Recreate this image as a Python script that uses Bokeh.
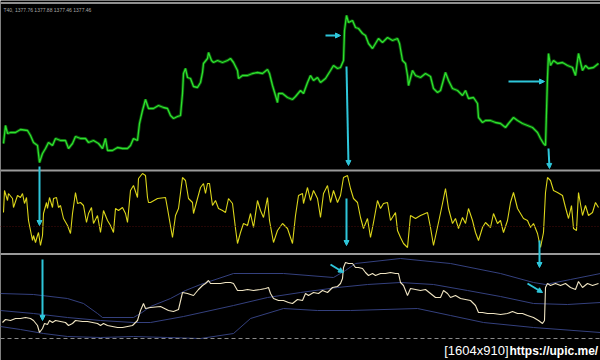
from bokeh.plotting import figure
from bokeh.models import Range1d, Span, Arrow, NormalHead, Label
from bokeh.embed import file_html
from bokeh.resources import INLINE

# ---------------- data (bar index / pane-level values) -------------
# top pane: price line
price_x = [3,5,7,10,15,20,27,30,33,37,
           39,42,45,48,52,55,60,65,68,72,
           75,80,85,88,93,98,102,105,107,112,
           117,122,127,130,133,137,139,142,145,148,
           153,158,163,167,170,173,177,180,182,183,
           185,187,190,193,197,200,202,203,207,208,
           211,213,217,222,227,230,233,237,238,242,
           247,252,257,262,267,269,272,275,277,278,
           282,287,292,295,300,303,307,310,313,317,
           320,325,330,333,337,340,343,344,346,348,
           352,355,358,362,365,368,372,375,378,382,
           387,392,397,399,402,405,407,408,412,415,
           420,425,430,433,437,440,445,448,452,457,
           462,465,468,473,477,478,482,485,490,495,
           500,505,508,513,517,522,527,532,537,540,
           543,545,547,548,550,553,557,562,567,572,
           575,578,582,585,588,593,598]
price_v = [27,45,37,38,38,41,40,35,28,25,
           8,17,22,28,25,32,30,30,22,27,
           34,32,32,28,30,27,22,32,20,20,
           23,22,22,25,32,30,47,60,71,62,
           62,65,63,62,55,52,54,55,77,97,
           102,93,92,84,83,88,98,107,112,118,
           110,108,110,108,110,112,108,100,92,95,
           95,97,98,97,101,97,85,75,68,77,
           77,73,71,74,80,77,88,95,90,93,
           88,92,100,105,102,103,110,140,155,148,
           150,143,142,137,135,127,122,127,132,128,
           133,130,132,127,110,107,95,85,100,95,
           93,97,94,82,78,80,98,90,82,80,
           75,80,72,73,67,53,48,50,50,48,
           47,43,47,53,50,47,45,43,38,32,
           27,25,93,117,105,110,107,108,105,103,
           95,117,100,105,102,103,107]

# middle pane: oscillator
osc_x = [3,4,7,8,12,13,17,20,22,24,
         26,28,32,33,35,37,38,40,42,43,
         46,47,49,52,53,56,58,60,63,67,
         70,72,75,77,80,83,86,88,91,93,
         97,100,103,107,110,113,115,118,122,125,
         127,130,133,137,138,142,145,147,148,
         150,157,165,167,172,175,178,182,185,188,
         192,193,197,200,203,205,207,209,212,215,
         218,222,225,228,232,235,237,240,243,247,
         250,253,257,260,263,267,269,273,277,282,
         287,292,295,298,302,303,307,310,313,317,
         320,323,327,330,333,337,340,343,347,350,
         353,357,360,363,367,370,373,377,380,383,
         387,390,395,397,400,403,407,410,415,420,
         427,430,433,438,442,445,448,452,455,458,
         462,465,468,472,475,478,482,485,490,493,
         497,500,503,507,510,513,517,520,523,527,
         530,533,537,540,543,545,547,550,553,557,
         562,565,568,571,573,576,578,582,585,588,
         592,595,598]
osc_v = [42,64,54,61,56,47,59,57,61,51,
         57,34,14,19,12,19,22,9,19,41,
         52,46,57,47,56,57,47,49,36,29,
         21,41,62,51,52,49,32,41,47,31,
         39,22,44,34,29,22,46,44,47,41,
         32,64,69,57,76,81,79,57,52,
         52,56,57,46,17,39,46,77,74,56,
         52,41,56,67,71,61,71,71,49,54,
         46,44,42,56,51,26,11,22,31,29,
         41,27,54,44,37,57,34,12,24,31,
         26,11,39,59,61,51,67,54,64,56,
         37,61,69,52,64,52,59,77,79,66,
         56,52,37,26,36,17,32,54,46,51,
         52,34,42,24,17,11,7,39,36,39,
         42,27,9,32,51,66,46,31,36,26,
         37,31,46,34,22,14,27,32,27,41,
         31,34,22,34,52,62,46,41,36,34,
         27,31,21,7,22,62,77,74,64,62,
         59,47,36,49,26,24,62,39,49,39,
         42,52,47]
osc_level = 28

# bottom pane: price copy with envelope bands
close_x = [2,5,10,15,20,25,30,33,37,39,
           42,44,47,49,52,55,60,65,68,72,
           75,82,87,92,97,100,103,107,112,117,
           122,127,132,135,137,140,143,145,
           150,160,168,173,178,182,187,193,198,202,
           205,208,210,215,220,225,230,233,237,242,
           247,253,260,265,268,270,273,278,283,288,
           292,297,302,305,308,313,318,322,327,332,
           337,340,342,343,345,348,352,355,358,362,
           365,368,372,375,380,385,390,395,398,400,
           403,407,410,415,420,425,430,435,440,443,
           447,450,455,460,465,470,475,478,482,487,
           493,500,507,512,517,522,527,533,538,542,
           544,545,547,550,555,560,565,570,575,578,
           582,587,592,598]
close_v = [18,21,20,22,22,23,22,20,15,8,
           12,17,16,20,18,20,19,18,15,17,
           20,19,19,18,17,15,17,15,14,13,
           13,14,15,18,20,30,37,32,
           33,34,30,29,31,48,47,45,51,55,
           57,60,57,57,57,58,58,57,50,50,
           51,50,51,52,53,47,42,40,40,38,
           37,41,40,47,45,48,47,50,48,53,
           54,57,62,73,78,77,77,73,73,72,
           68,65,67,65,67,67,68,67,67,58,
           55,45,52,51,50,51,47,43,43,50,
           47,43,45,42,41,40,35,28,28,27,
           27,26,27,29,27,27,25,23,20,17,
           20,53,57,55,57,55,57,53,51,59,
           53,57,55,57]

upper_x = [0,33,67,83,97,102,133,140,150,170,185,200,233,283,333,345,355,400,450,500,533,545,570,600]
upper_v = [47,46,42,37,27,23,23,27,34,42,50,56,67,67,63,70,77,82,77,67,58,56,61,67]
mid_x = [0,33,67,100,133,150,183,233,267,300,337,367,400,433,467,500,533,567,600]
mid_v = [30,27,23,20,18,18,24,35,43,48,53,56,58,56,50,44,37,36,38]
lower_x = [0,20,43,67,100,133,167,200,233,250,283,317,350,417,450,483,533,600]
lower_v = [14,11,7,4,3,4,3,2,7,22,32,30,30,32,25,18,13,8]

# hand-drawn arrows (x0, y0, x1, y1, pane)
arrows = [
    (39, 88, 39, 29, "osc"),
    (42, 81, 42, 20, "ind"),
    (325, 135, 340, 135, "default"),
    (346, 104, 348, 5, "default"),
    (346, 56, 346, 9, "osc"),
    (330, 76, 343, 68, "ind"),
    (508, 89, 544, 89, "default"),
    (548, 22, 549, 2, "default"),
    (539, 14, 539, -13, "osc"),
    (527, 57, 542, 48, "ind"),
]

header_text = "T40, 1377.76 1377.88 1377.46 1377.46"
stamp_size = "[1604x910]"
stamp_url = "https://upic.me/"

# ---------------- figure ----------------
p = figure(width=600, height=360, output_backend="svg", toolbar_location=None,
           x_range=Range1d(0, 600), y_range=Range1d(-190, 170),
           x_axis_type=None, y_axis_type=None, min_border=0,
           background_fill_color="black", border_fill_color="black",
           outline_line_color=None)
p.extra_y_ranges = {"osc": Range1d(-106, 254), "ind": Range1d(-20, 340)}

# pane separators
p.add_layout(Span(location=167.5, dimension="width", line_color="#8f8f8f", line_width=2))
p.add_layout(Span(location=0, dimension="width", line_color="#9a9a9a", line_width=2))
p.add_layout(Span(location=-83.5, dimension="width", line_color="#9a9a9a", line_width=2))
p.add_layout(Span(location=osc_level, y_range_name="osc", dimension="width",
                  line_color="#4a0c0c", line_width=1, line_dash="1 2"))
p.add_layout(Span(location=2, y_range_name="ind", dimension="width",
                  line_color="#8a8a8a", line_width=1, line_dash="4 3"))

# series
p.line(price_x, price_v, line_color="#0f7a0f", line_width=3, line_alpha=0.7)
p.line(price_x, price_v, line_color="#2ee02e", line_width=1.3)
p.line(osc_x, osc_v, line_color="#dcd61a", line_width=1.1, y_range_name="osc")
for bx, bv in ((upper_x, upper_v), (mid_x, mid_v), (lower_x, lower_v)):
    p.line(bx, bv, line_color="#34407e", line_width=1, y_range_name="ind")
p.line(close_x, close_v, line_color="#efe4c2", line_width=1.1, y_range_name="ind")

for x0, y0, x1, y1, rng in arrows:
    kw = {} if rng == "default" else {"y_range_name": rng}
    p.add_layout(Arrow(x_start=x0, y_start=y0, x_end=x1, y_end=y1,
                       line_color="#2ec6da", line_width=2,
                       end=NormalHead(size=5, fill_color="#2ec6da", line_color="#2ec6da"),
                       **kw))

p.add_layout(Label(x=3, y=164, text=header_text, text_font_size="5px",
                   text_color="#a8a8a8", text_baseline="top", text_font="Liberation Sans"))
p.add_layout(Label(x=508, y=-10, y_range_name="ind", text=stamp_size, text_font_size="13px",
                   text_color="white", text_align="right", text_baseline="middle",
                   text_font="Liberation Sans"))
p.add_layout(Label(x=509, y=-10, y_range_name="ind", text=stamp_url, text_font_size="12px",
                   text_color="white", text_align="left", text_baseline="middle",
                   text_font="Liberation Sans", text_font_style="bold"))

open("out.html", "w").write(file_html(p, INLINE))
